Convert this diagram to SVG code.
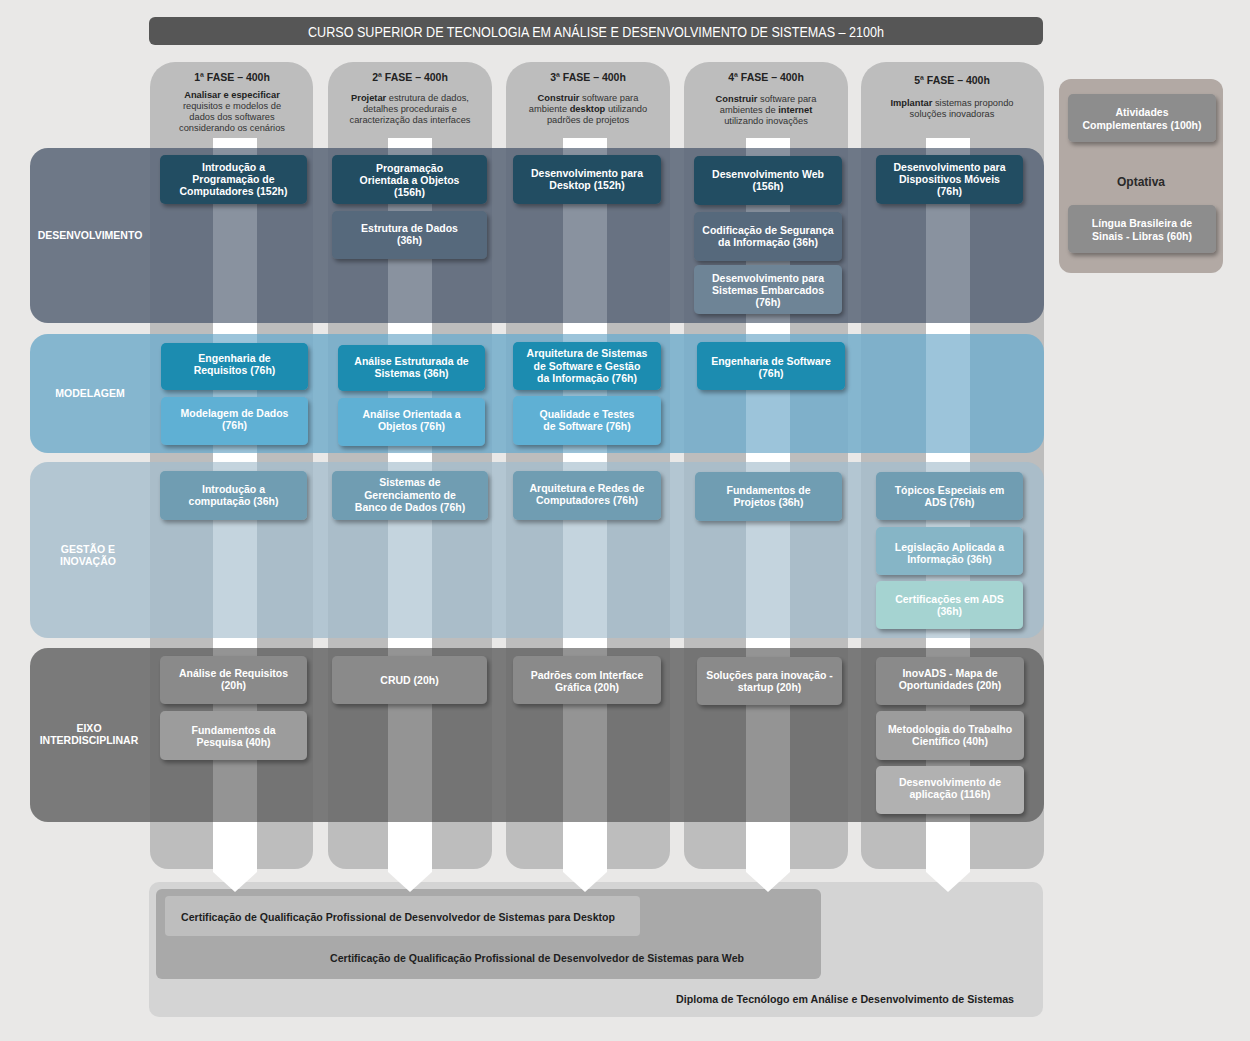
<svg xmlns="http://www.w3.org/2000/svg" width="1250" height="1041" viewBox="0 0 1250 1041">
<defs>
<filter id="sh" x="-10%" y="-20%" width="125%" height="150%">
<feDropShadow dx="2" dy="3" stdDeviation="2" flood-color="#000" flood-opacity="0.35"/>
</filter>
<style>
.col{fill:#bdbdbd}
.bx{filter:url(#sh)}
.bt{font-family:"Liberation Sans",Arial,sans-serif;font-size:10.5px;font-weight:bold;fill:#fff;text-anchor:middle}
.bl{font-family:"Liberation Sans",Arial,sans-serif;font-size:10.5px;font-weight:bold;fill:#fff;text-anchor:middle}
.ph{font-family:"Liberation Sans",Arial,sans-serif;font-size:10.5px;font-weight:bold;fill:#222;text-anchor:middle}
.pd{font-family:"Liberation Sans",Arial,sans-serif;font-size:9.3px;fill:#333;text-anchor:middle}
.pd tspan.b{font-weight:bold;fill:#222}
.ct{font-family:"Liberation Sans",Arial,sans-serif;font-size:11px;font-weight:bold;fill:#1e1e1e}
.arrow{fill:#fff}
.arrowov{fill:#fff;opacity:0.18}
</style>
</defs>
<rect x="0" y="0" width="1250" height="1041" fill="#e9e8e7"/>

<g id="title">
<rect x="149" y="17" width="894" height="28" rx="6" fill="#565656"/>
<text x="308" y="36.5" textLength="576" lengthAdjust="spacingAndGlyphs" font-family="'Liberation Sans',Arial,sans-serif" font-size="14" fill="#fff">CURSO SUPERIOR DE TECNOLOGIA EM ANÁLISE E DESENVOLVIMENTO DE SISTEMAS – 2100h</text>
</g>

<g id="columns">
<path class="col" d="M150,87 a25,25 0 0 1 25,-25 h113 a25,25 0 0 1 25,25 V851 a18,18 0 0 1 -18,18 H168 a18,18 0 0 1 -18,-18 Z"/>
<path class="col" d="M328,87 a25,25 0 0 1 25,-25 h114 a25,25 0 0 1 25,25 V851 a18,18 0 0 1 -18,18 H346 a18,18 0 0 1 -18,-18 Z"/>
<path class="col" d="M506,87 a25,25 0 0 1 25,-25 h114 a25,25 0 0 1 25,25 V851 a18,18 0 0 1 -18,18 H524 a18,18 0 0 1 -18,-18 Z"/>
<path class="col" d="M684,87 a25,25 0 0 1 25,-25 h114 a25,25 0 0 1 25,25 V851 a18,18 0 0 1 -18,18 H702 a18,18 0 0 1 -18,-18 Z"/>
<path class="col" d="M861,87 a25,25 0 0 1 25,-25 h133 a25,25 0 0 1 25,25 V851 a18,18 0 0 1 -18,18 H879 a18,18 0 0 1 -18,-18 Z"/>
</g>

<g id="phase1">
<text class="ph" x="232" y="80.7">1ª FASE – 400h</text>
<text class="pd" x="232" y="98.3"><tspan class="b">Analisar e especificar</tspan></text>
<text class="pd" x="232" y="109.2">requisitos e modelos de</text>
<text class="pd" x="232" y="120.1">dados dos softwares</text>
<text class="pd" x="232" y="131">considerando os cenários</text>
</g>
<g id="phase2">
<text class="ph" x="410" y="80.7">2ª FASE – 400h</text>
<text class="pd" x="410" y="101.3"><tspan class="b">Projetar</tspan> estrutura de dados,</text>
<text class="pd" x="410" y="112">detalhes procedurais e</text>
<text class="pd" x="410" y="122.7">caracterização das interfaces</text>
</g>
<g id="phase3">
<text class="ph" x="588" y="80.7">3ª FASE – 400h</text>
<text class="pd" x="588" y="101.3"><tspan class="b">Construir</tspan> software para</text>
<text class="pd" x="588" y="112">ambiente <tspan class="b">desktop</tspan> utilizando</text>
<text class="pd" x="588" y="122.7">padrões de projetos</text>
</g>
<g id="phase4">
<text class="ph" x="766" y="80.7">4ª FASE – 400h</text>
<text class="pd" x="766" y="102.3"><tspan class="b">Construir</tspan> software para</text>
<text class="pd" x="766" y="113">ambientes de <tspan class="b">internet</tspan></text>
<text class="pd" x="766" y="123.7">utilizando inovações</text>
</g>
<g id="phase5">
<text class="ph" x="952" y="83.7">5ª FASE – 400h</text>
<text class="pd" x="952" y="106.3"><tspan class="b">Implantar</tspan> sistemas propondo</text>
<text class="pd" x="952" y="117">soluções inovadoras</text>
</g>

<g id="diploma">
<rect x="149" y="882" width="894" height="135" rx="10" fill="#d4d4d4"/>
<text class="ct" x="676" y="1003" textLength="338" lengthAdjust="spacingAndGlyphs">Diploma de Tecnólogo em Análise e Desenvolvimento de Sistemas</text>
</g>
<g id="cert-web">
<rect x="156" y="889" width="665" height="90" rx="6" fill="#a9a9a9"/>
<text class="ct" x="330" y="962" textLength="414" lengthAdjust="spacingAndGlyphs">Certificação de Qualificação Profissional de Desenvolvedor de Sistemas para Web</text>
</g>
<g id="cert-desktop">
<rect x="165" y="896" width="475" height="40" rx="4" fill="#bebebe"/>
<text class="ct" x="181" y="921" textLength="434" lengthAdjust="spacingAndGlyphs">Certificação de Qualificação Profissional de Desenvolvedor de Sistemas para Desktop</text>
</g>

<g id="connectors">
<polygon class="arrow" points="213,138 257,138 257,872 235,892 213,872"/>
<polygon class="arrow" points="388,138 432,138 432,872 410,892 388,872"/>
<polygon class="arrow" points="563,138 607,138 607,872 585,892 563,872"/>
<polygon class="arrow" points="746,138 790,138 790,872 768,892 746,872"/>
<polygon class="arrow" points="926,138 970,138 970,872 948,892 926,872"/>
</g>

<g id="band-desenvolvimento">
<rect x="30" y="148" width="1014" height="175" rx="18" fill="#5c687a" opacity="0.88"/>
</g>
<g id="band-modelagem">
<rect x="30" y="334" width="1014" height="119" rx="18" fill="#76aecc" opacity="0.88"/>
</g>
<g id="band-gestao">
<rect x="30" y="462" width="1014" height="176" rx="18" fill="#a4bdcc" opacity="0.78"/>
</g>
<g id="band-eixo">
<rect x="30" y="648" width="1014" height="174" rx="18" fill="#686868" opacity="0.86"/>
</g>

<g id="arrow-overlay">
<rect class="arrowov" x="213" y="148" width="44" height="674"/>
<rect class="arrowov" x="388" y="148" width="44" height="674"/>
<rect class="arrowov" x="563" y="148" width="44" height="674"/>
<rect class="arrowov" x="746" y="148" width="44" height="674"/>
<rect class="arrowov" x="926" y="148" width="44" height="674"/>
</g>

<g id="label-desenvolvimento"><text class="bl" x="90" y="238.7">DESENVOLVIMENTO</text></g>
<g id="label-modelagem"><text class="bl" x="90" y="396.7">MODELAGEM</text></g>
<g id="label-gestao"><text class="bl" x="88" y="552.7">GESTÃO E</text><text class="bl" x="88" y="564.7">INOVAÇÃO</text></g>
<g id="label-eixo"><text class="bl" x="89" y="731.7">EIXO</text><text class="bl" x="89" y="743.7">INTERDISCIPLINAR</text></g>

<!-- DESENVOLVIMENTO -->
<g id="d1"><rect class="bx" x="160" y="155" width="147" height="49" rx="5" fill="#244e62"/>
<text class="bt" x="233.5" y="170.5">Introdução a</text><text class="bt" x="233.5" y="182.5">Programação de</text><text class="bt" x="233.5" y="194.5">Computadores (152h)</text></g>
<g id="d2"><rect class="bx" x="332" y="155" width="155" height="49" rx="5" fill="#244e62"/>
<text class="bt" x="409.5" y="172">Programação</text><text class="bt" x="409.5" y="184">Orientada a Objetos</text><text class="bt" x="409.5" y="196">(156h)</text></g>
<g id="d2b"><rect class="bx" x="332" y="211" width="155" height="48" rx="5" fill="#56697b"/>
<text class="bt" x="409.5" y="232">Estrutura de Dados</text><text class="bt" x="409.5" y="244">(36h)</text></g>
<g id="d3"><rect class="bx" x="513" y="155" width="148" height="49" rx="5" fill="#244e62"/>
<text class="bt" x="587" y="176.7">Desenvolvimento para</text><text class="bt" x="587" y="188.7">Desktop (152h)</text></g>
<g id="d4"><rect class="bx" x="694" y="156" width="148" height="49" rx="5" fill="#244e62"/>
<text class="bt" x="768" y="177.5">Desenvolvimento Web</text><text class="bt" x="768" y="189.5">(156h)</text></g>
<g id="d4b"><rect class="bx" x="694" y="212" width="148" height="49" rx="5" fill="#56697b"/>
<text class="bt" x="768" y="233.5">Codificação de Segurança</text><text class="bt" x="768" y="245.5">da Informação (36h)</text></g>
<g id="d4c"><rect class="bx" x="694" y="265" width="148" height="49" rx="5" fill="#6e8496"/>
<text class="bt" x="768" y="281.5">Desenvolvimento para</text><text class="bt" x="768" y="293.5">Sistemas Embarcados</text><text class="bt" x="768" y="305.5">(76h)</text></g>
<g id="d5"><rect class="bx" x="876" y="155" width="147" height="49" rx="5" fill="#244e62"/>
<text class="bt" x="949.5" y="170.7">Desenvolvimento para</text><text class="bt" x="949.5" y="182.7">Dispositivos Móveis</text><text class="bt" x="949.5" y="194.7">(76h)</text></g>

<!-- MODELAGEM -->
<g id="m1"><rect class="bx" x="161" y="343" width="147" height="47" rx="5" fill="#1a8cb0"/>
<text class="bt" x="234.5" y="362">Engenharia de</text><text class="bt" x="234.5" y="374">Requisitos (76h)</text></g>
<g id="m1b"><rect class="bx" x="161" y="397" width="147" height="48" rx="5" fill="#5fb0d4"/>
<text class="bt" x="234.5" y="417">Modelagem de Dados</text><text class="bt" x="234.5" y="429">(76h)</text></g>
<g id="m2"><rect class="bx" x="338" y="345" width="147" height="46" rx="5" fill="#1a8cb0"/>
<text class="bt" x="411.5" y="364.5">Análise Estruturada de</text><text class="bt" x="411.5" y="376.5">Sistemas (36h)</text></g>
<g id="m2b"><rect class="bx" x="338" y="398" width="147" height="48" rx="5" fill="#5fb0d4"/>
<text class="bt" x="411.5" y="418">Análise Orientada a</text><text class="bt" x="411.5" y="430">Objetos (76h)</text></g>
<g id="m3"><rect class="bx" x="513" y="342" width="148" height="48" rx="5" fill="#1a8cb0"/>
<text class="bt" x="587" y="357">Arquitetura de Sistemas</text><text class="bt" x="587" y="369.5">de Software e Gestão</text><text class="bt" x="587" y="382">da Informação (76h)</text></g>
<g id="m3b"><rect class="bx" x="513" y="396" width="148" height="49" rx="5" fill="#5fb0d4"/>
<text class="bt" x="587" y="417.7">Qualidade e Testes</text><text class="bt" x="587" y="429.7">de Software (76h)</text></g>
<g id="m4"><rect class="bx" x="697" y="342" width="148" height="48" rx="5" fill="#1a8cb0"/>
<text class="bt" x="771" y="364.5">Engenharia de Software</text><text class="bt" x="771" y="376.5">(76h)</text></g>

<!-- GESTAO -->
<g id="g1"><rect class="bx" x="160" y="471" width="147" height="49" rx="5" fill="#6f9db2"/>
<text class="bt" x="233.5" y="492.7">Introdução a</text><text class="bt" x="233.5" y="504.7">computação (36h)</text></g>
<g id="g2"><rect class="bx" x="332" y="471" width="156" height="49" rx="5" fill="#6f9db2"/>
<text class="bt" x="410" y="486">Sistemas de</text><text class="bt" x="410" y="498.5">Gerenciamento de</text><text class="bt" x="410" y="511">Banco de Dados (76h)</text></g>
<g id="g3"><rect class="bx" x="513" y="471" width="148" height="49" rx="5" fill="#6f9db2"/>
<text class="bt" x="587" y="491.7">Arquitetura e Redes de</text><text class="bt" x="587" y="503.7">Computadores (76h)</text></g>
<g id="g4"><rect class="bx" x="695" y="472" width="147" height="49" rx="5" fill="#6f9db2"/>
<text class="bt" x="768.5" y="493.7">Fundamentos de</text><text class="bt" x="768.5" y="505.7">Projetos (36h)</text></g>
<g id="g5"><rect class="bx" x="876" y="472" width="147" height="48" rx="5" fill="#6f9db2"/>
<text class="bt" x="949.5" y="493.7">Tópicos Especiais em</text><text class="bt" x="949.5" y="505.7">ADS (76h)</text></g>
<g id="g5b"><rect class="bx" x="876" y="527" width="147" height="48" rx="5" fill="#86b5c6"/>
<text class="bt" x="949.5" y="550.5">Legislação Aplicada a</text><text class="bt" x="949.5" y="562.5">Informação (36h)</text></g>
<g id="g5c"><rect class="bx" x="876" y="581" width="147" height="48" rx="5" fill="#a5d3d1"/>
<text class="bt" x="949.5" y="602.7">Certificações em ADS</text><text class="bt" x="949.5" y="614.7">(36h)</text></g>

<!-- EIXO -->
<g id="e1"><rect class="bx" x="160" y="656" width="147" height="48" rx="5" fill="#8a8a8a"/>
<text class="bt" x="233.5" y="676.7">Análise de Requisitos</text><text class="bt" x="233.5" y="688.7">(20h)</text></g>
<g id="e1b"><rect class="bx" x="160" y="711" width="147" height="49" rx="5" fill="#9c9c9c"/>
<text class="bt" x="233.5" y="733.7">Fundamentos da</text><text class="bt" x="233.5" y="745.7">Pesquisa (40h)</text></g>
<g id="e2"><rect class="bx" x="332" y="656" width="155" height="48" rx="5" fill="#8a8a8a"/>
<text class="bt" x="409.5" y="684">CRUD (20h)</text></g>
<g id="e3"><rect class="bx" x="513" y="656" width="148" height="48" rx="5" fill="#8a8a8a"/>
<text class="bt" x="587" y="678.5">Padrões com Interface</text><text class="bt" x="587" y="690.5">Gráfica (20h)</text></g>
<g id="e4"><rect class="bx" x="697" y="657" width="145" height="48" rx="5" fill="#8a8a8a"/>
<text class="bt" x="769.5" y="678.5">Soluções para inovação -</text><text class="bt" x="769.5" y="690.5">startup (20h)</text></g>
<g id="e5"><rect class="bx" x="876" y="657" width="148" height="48" rx="5" fill="#8a8a8a"/>
<text class="bt" x="950" y="676.7">InovADS - Mapa de</text><text class="bt" x="950" y="688.7">Oportunidades (20h)</text></g>
<g id="e5b"><rect class="bx" x="876" y="711" width="148" height="49" rx="5" fill="#9c9c9c"/>
<text class="bt" x="950" y="732.7">Metodologia do Trabalho</text><text class="bt" x="950" y="744.7">Científico (40h)</text></g>
<g id="e5c"><rect class="bx" x="876" y="766" width="148" height="48" rx="5" fill="#b1b1b1"/>
<text class="bt" x="950" y="785.7">Desenvolvimento de</text><text class="bt" x="950" y="797.7">aplicação (116h)</text></g>

<!-- Optional panel -->
<g id="extras">
<rect x="1059" y="79" width="164" height="194" rx="12" fill="#b2a9a4"/>
<text x="1141" y="186" text-anchor="middle" font-family="'Liberation Sans',Arial,sans-serif" font-size="12" font-weight="bold" fill="#2a2a2a">Optativa</text>
</g>
<g id="atividades"><rect class="bx" x="1068" y="94" width="148" height="48" rx="5" fill="#8d8d8d"/>
<text class="bt" x="1142" y="115.7">Atividades</text><text class="bt" x="1142" y="128.7">Complementares (100h)</text></g>
<g id="libras"><rect class="bx" x="1068" y="205" width="148" height="48" rx="5" fill="#8d8d8d"/>
<text class="bt" x="1142" y="226.7">Língua Brasileira de</text><text class="bt" x="1142" y="239.7">Sinais - Libras (60h)</text></g>
</svg>
